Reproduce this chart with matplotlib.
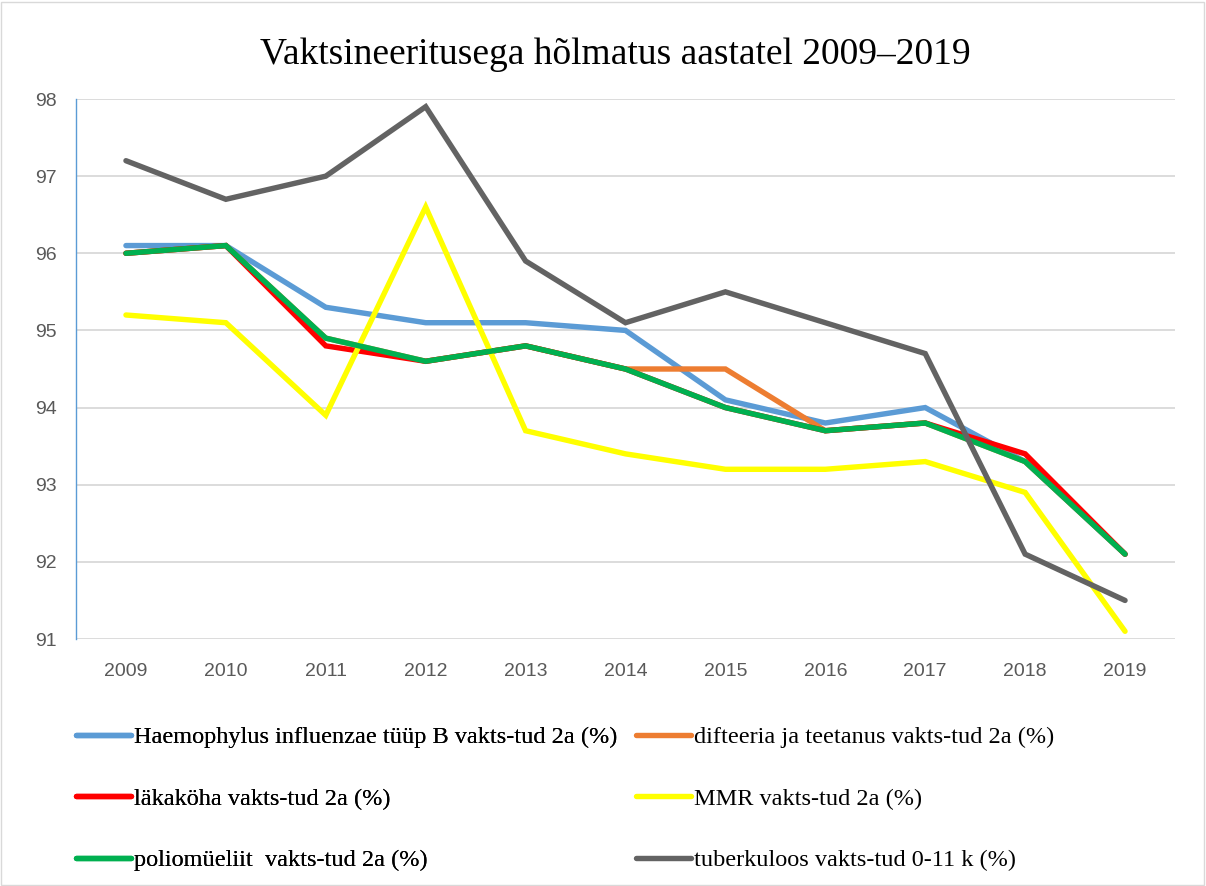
import matplotlib
matplotlib.use("Agg")
import matplotlib.pyplot as plt
from matplotlib.patches import Rectangle

years = ["2009", "2010", "2011", "2012", "2013", "2014", "2015", "2016", "2017", "2018", "2019"]
hib = [96.1, 96.1, 95.3, 95.1, 95.1, 95.0, 94.1, 93.8, 94.0, 93.3, 92.1]
dtp = [96.0, 96.1, 94.9, 94.6, 94.8, 94.5, 94.5, 93.7, 93.8, 93.3, 92.1]
pert = [96.0, 96.1, 94.8, 94.6, 94.8, 94.5, 94.0, 93.7, 93.8, 93.4, 92.1]
mmr = [95.2, 95.1, 93.9, 96.6, 93.7, 93.4, 93.2, 93.2, 93.3, 92.9, 91.1]
polio = [96.0, 96.1, 94.9, 94.6, 94.8, 94.5, 94.0, 93.7, 93.8, 93.3, 92.1]
tb = [97.2, 96.7, 97.0, 97.9, 95.9, 95.1, 95.5, 95.1, 94.7, 92.1, 91.5]

labels = [
    "Haemophylus influenzae tüüp B vakts-tud 2a (%)",
    "difteeria ja teetanus vakts-tud 2a (%)",
    "läkaköha vakts-tud 2a (%)",
    "MMR vakts-tud 2a (%)",
    "poliomüeliit  vakts-tud 2a (%)",
    "tuberkuloos vakts-tud 0-11 k (%)",
]
series = [hib, dtp, pert, mmr, polio, tb]
colors = ["#5B9BD5", "#ED7D31", "#FF0000", "#FFFF00", "#00B050", "#636363"]

fig = plt.figure(figsize=(12.06, 8.86), dpi=100)
W, H = 1206, 886
ax = fig.add_axes([76 / W, 1 - 639 / H, (1175 - 76) / W, (639 - 99) / H])

x = list(range(len(years)))
handles = []
for s, c, l in zip(series, colors, labels):
    h, = ax.plot(x, s, color=c, lw=3.9, label=l, solid_capstyle="round", solid_joinstyle="miter")
    handles.append(h)

ax.set_xlim(-0.5, len(years) - 0.5)
ax.set_ylim(91, 98)
ax.set_yticks(range(91, 99))
ax.set_xticks(x)
ax.set_xticklabels(years)
ax.grid(axis="y", color="#D9D9D9", lw=1.3)
ax.set_axisbelow(True)
for sp in ["top", "right", "bottom"]:
    ax.spines[sp].set_visible(False)
ax.spines["left"].set_color("#5B9BD5")
ax.spines["left"].set_linewidth(1.0)
ax.tick_params(axis="both", length=0, labelsize=14, labelcolor="#595959")
ax.tick_params(axis="x", pad=17)
ax.tick_params(axis="y", pad=14)
for t in ax.get_xticklabels() + ax.get_yticklabels():
    t.set_family("Liberation Sans")

fig.text(615 / W, 1 - 55 / H, "Vaktsineeritusega hõlmatus aastatel 2009–2019",
         ha="center", va="center", fontsize=27, family="Liberation Serif")

legprops = dict(ncol=1, loc="upper left", frameon=False,
                prop={"family": "Liberation Serif", "size": 17.5},
                handlelength=2.25, handletextpad=0.15, labelspacing=1.63, borderaxespad=0,
                borderpad=0)
col1 = [0, 2, 4]
col2 = [1, 3, 5]
leg1 = fig.legend([handles[i] for i in col1], [labels[i] for i in col1],
                  bbox_to_anchor=(76 / W, 1 - 726 / H), **legprops)
fig.add_artist(leg1)
leg2 = fig.legend([handles[i] for i in col2], [labels[i] for i in col2],
                  bbox_to_anchor=(636 / W, 1 - 726 / H), **legprops)

fig.patches.append(Rectangle((1 / W, 1 / H), 1 - 3 / W, 1 - 3 / H, transform=fig.transFigure,
                             fill=False, edgecolor="#D9D9D9", lw=1))

fig.savefig("out.png", dpi=100)
